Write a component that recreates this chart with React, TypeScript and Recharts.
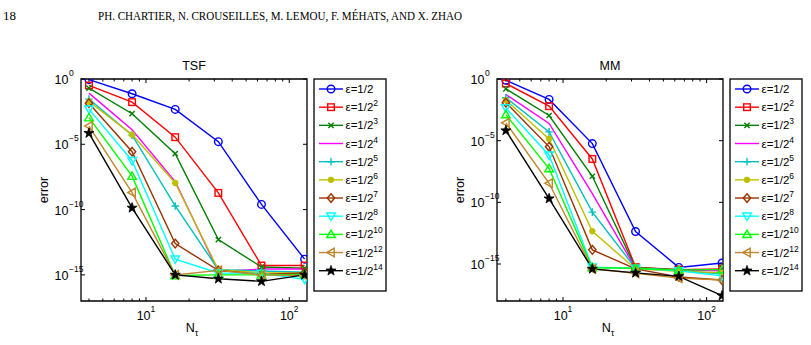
import React from "react";
import { LineChart, Line, XAxis, YAxis, ReferenceArea } from "recharts";

// time-step counts on the horizontal axis
const nTau = [4, 8, 16, 32, 64, 128];
// each curve is eps = 1/2^k
const epsPowers = [1, 2, 3, 4, 5, 6, 7, 8, 10, 12, 14];

// TSF scheme errors, one row per eps
const tsfErrors = [
  [8.9e-1, 7.4e-2, 4.7e-3, 1.6e-5, 2.5e-10, 1.6e-14],
  [3.2e-1, 1.7e-2, 3.5e-5, 1.9e-9, 5.2e-15, 5.2e-15],
  [2.0e-1, 2.2e-3, 1.9e-6, 5.0e-13, 4.0e-15, 3.2e-15],
  [8.3e-2, 1.3e-4, 1.4e-8, 1.8e-15, 2.8e-15, 2.8e-15],
  [2.9e-2, 5.0e-5, 1.9e-10, 2.5e-15, 2.0e-15, 1.6e-15],
  [1.9e-2, 5.5e-5, 1.1e-8, 2.5e-15, 1.4e-15, 1.4e-15],
  [1.4e-2, 2.7e-6, 2.5e-13, 2.2e-15, 1.1e-15, 1.4e-15],
  [4.9e-3, 5.5e-7, 1.6e-14, 1.4e-15, 1.3e-15, 4.5e-16],
  [1.1e-3, 3.6e-8, 8.9e-16, 1.0e-15, 1.0e-15, 1.1e-15],
  [2.5e-4, 2.0e-9, 1.0e-15, 2.2e-15, 1.0e-15, 8.9e-16],
  [7.1e-5, 1.35e-10, 1.0e-15, 5.0e-16, 3.2e-16, 1.0e-15],
];

// MM scheme errors, one row per eps
const mmErrors = [
  [7.9e-1, 2.2e-2, 5.8e-6, 4.3e-13, 5.3e-16, 1.2e-15],
  [4.3e-1, 6.3e-3, 3.3e-7, 5.6e-16, 3.5e-16, 4.0e-16],
  [1.6e-1, 1.1e-3, 1.3e-8, 5.0e-16, 3.5e-16, 3.2e-16],
  [5.5e-2, 2.5e-4, 5.0e-10, 4.5e-16, 3.2e-16, 2.8e-16],
  [3.0e-2, 5.2e-5, 1.6e-11, 4.5e-16, 2.8e-16, 1.6e-16],
  [1.9e-2, 1.4e-5, 4.5e-13, 4.0e-16, 2.5e-16, 2.0e-16],
  [1.2e-2, 3.2e-6, 1.4e-14, 4.0e-16, 8.9e-17, 5.0e-17],
  [4.6e-3, 6.6e-7, 5.6e-16, 4.5e-16, 2.8e-16, 1.1e-16],
  [1.3e-3, 5.5e-8, 5.0e-16, 4.5e-16, 3.2e-16, 3.5e-16],
  [2.8e-4, 3.5e-9, 4.0e-16, 1.8e-16, 7.1e-17, 5.0e-17],
  [6.6e-5, 2.0e-10, 4.0e-16, 1.9e-16, 1.0e-16, 2.7e-18],
];

const xMajorTicks = [10, 100];
const xMinorTicks = [4, 5, 6, 7, 8, 9, 20, 30, 40, 50, 60, 70, 80, 90];
const yMajorTicks = [1, 1e-5, 1e-10, 1e-15];

const curveColors = [
  "#0000ff", "#ff0000", "#007f00", "#ff00ff", "#00bfbf", "#bfbf00",
  "#993300", "#00ffff", "#00ff00", "#c0862a", "#000000",
];
const curveMarkers = ["o", "s", "x", "", "+", "*", "d", "v", "^", "<", "p"];

// layout of one panel (local coordinates)
const CHART_H = 345;
const PLOT_LEFT = 81;
const PLOT_TOP = 79;
const PLOT_W = 226;
const PLOT_H = 222;
const Y_AXIS_W = 50;
const X_AXIS_H = 40;
const LEGEND_X = 314;
const LEGEND_W = 72;
const LEGEND_H = 212;
const LEGEND_ROW0 = 89;
const LEGEND_STEP = 18.17;
const LINE_W = 1.4;

const FONT = "'Liberation Sans', Arial, Helvetica, sans-serif";

function starPath(cx: number, cy: number, R: number, r: number) {
  let d = "";
  for (let i = 0; i < 10; i++) {
    const a = -Math.PI / 2 + (i * Math.PI) / 5;
    const rad = i % 2 === 0 ? R : r;
    d += (i === 0 ? "M" : "L") + (cx + rad * Math.cos(a)).toFixed(2) + " " + (cy + rad * Math.sin(a)).toFixed(2);
  }
  return d + "Z";
}

function Marker({ kind, color, cx, cy }: { kind: string; color: string; cx: number; cy: number }) {
  const s = { fill: "none", stroke: color, strokeWidth: LINE_W };
  switch (kind) {
    case "o":
      return <circle cx={cx} cy={cy} r={3.8} {...s} />;
    case "s":
      return <rect x={cx - 3.3} y={cy - 3.3} width={6.6} height={6.6} {...s} />;
    case "x":
      return <path d={`M${cx - 2.6} ${cy - 2.6}L${cx + 2.6} ${cy + 2.6}M${cx - 2.6} ${cy + 2.6}L${cx + 2.6} ${cy - 2.6}`} {...s} />;
    case "+":
      return <path d={`M${cx - 3.8} ${cy}H${cx + 3.8}M${cx} ${cy - 3.8}V${cy + 3.8}`} {...s} />;
    case "*":
      return (
        <path
          d={`M${cx - 3.2} ${cy}H${cx + 3.2}M${cx} ${cy - 3.2}V${cy + 3.2}M${cx - 2.3} ${cy - 2.3}L${cx + 2.3} ${cy + 2.3}M${cx - 2.3} ${cy + 2.3}L${cx + 2.3} ${cy - 2.3}`}
          {...s}
          strokeWidth={2}
        />
      );
    case "d":
      return <path d={`M${cx} ${cy - 4.3}L${cx + 3.7} ${cy}L${cx} ${cy + 4.3}L${cx - 3.7} ${cy}Z`} {...s} />;
    case "v":
      return <path d={`M${cx - 4.3} ${cy - 3.2}L${cx + 4.3} ${cy - 3.2}L${cx} ${cy + 4.3}Z`} {...s} />;
    case "^":
      return <path d={`M${cx - 4.3} ${cy + 3.2}L${cx + 4.3} ${cy + 3.2}L${cx} ${cy - 4.3}Z`} {...s} />;
    case "<":
      return <path d={`M${cx + 3.2} ${cy - 4.3}L${cx + 3.2} ${cy + 4.3}L${cx - 4.3} ${cy}Z`} {...s} />;
    case "p":
      return <path d={starPath(cx, cy, 5.3, 2.1)} fill={color} stroke={color} strokeWidth={0.8} />;
    default:
      return null;
  }
}

function supText(exp: number) {
  return exp < 0 ? `\u2212${-exp}` : `${exp}`;
}

function XTick(props: any) {
  const { x, y, payload } = props;
  const v = payload.value;
  const major = xMajorTicks.includes(v);
  const len = major ? 4 : 2.5;
  return (
    <g>
      <line x1={x} x2={x} y1={y} y2={y - len} stroke="#000" />
      <line x1={x} x2={x} y1={y - PLOT_H} y2={y - PLOT_H + len} stroke="#000" />
      {major && (
        <text x={x} y={y + 19} textAnchor="middle" fontSize={12.5} fill="#000" fontFamily={FONT}>
          10
          <tspan dy={-8} fontSize={8.5}>
            {supText(Math.round(Math.log10(v)))}
          </tspan>
        </text>
      )}
    </g>
  );
}

function YTick(props: any) {
  const { x, y, payload } = props;
  const exp = Math.round(Math.log10(payload.value));
  return (
    <g>
      <line x1={x} x2={x + 4} y1={y} y2={y} stroke="#000" />
      <line x1={x + PLOT_W} x2={x + PLOT_W - 4} y1={y} y2={y} stroke="#000" />
      <text x={x - 12.5} y={y + 5} textAnchor="end" fontSize={12.5} fill="#000" fontFamily={FONT}>
        10
      </text>
      <text x={x - 12} y={y - 3} fontSize={8.5} fill="#000" fontFamily={FONT}>
        {supText(exp)}
      </text>
    </g>
  );
}

function Panel({
  title,
  errors,
  xDomain,
  yDomain,
  left,
  width,
}: {
  title: string;
  errors: number[][];
  xDomain: [number, number];
  yDomain: [number, number];
  left: number;
  width: number;
}) {
  const rows = nTau.map((n, i) => {
    const row: Record<string, number> = { n };
    errors.forEach((series, k) => {
      row[`e${k}`] = series[i];
    });
    return row;
  });
  const plotCx = PLOT_LEFT + PLOT_W / 2;

  return (
    <div style={{ position: "absolute", left, top: 0, width, height: CHART_H }}>
      <LineChart
        width={width}
        height={CHART_H}
        data={rows}
        margin={{
          top: PLOT_TOP,
          left: PLOT_LEFT - Y_AXIS_W,
          right: width - PLOT_LEFT - PLOT_W,
          bottom: CHART_H - PLOT_TOP - PLOT_H - X_AXIS_H,
        }}
      >
        <XAxis
          dataKey="n"
          type="number"
          scale="log"
          domain={xDomain}
          allowDataOverflow
          ticks={[...xMinorTicks, ...xMajorTicks].sort((a, b) => a - b)}
          interval={0}
          tickSize={0}
          tickMargin={0}
          axisLine={false}
          height={X_AXIS_H}
          tick={XTick}
        />
        <YAxis
          type="number"
          scale="log"
          domain={yDomain}
          allowDataOverflow
          ticks={yMajorTicks}
          interval={0}
          tickSize={0}
          tickMargin={0}
          axisLine={false}
          width={Y_AXIS_W}
          tick={YTick}
        />
        <ReferenceArea
          x1={xDomain[0]}
          x2={xDomain[1]}
          y1={yDomain[0]}
          y2={yDomain[1]}
          fill="none"
          fillOpacity={0}
          stroke="#000"
          strokeWidth={1.3}
          ifOverflow="visible"
        />
        {errors.map((_, k) => (
          <Line
            key={k}
            dataKey={`e${k}`}
            stroke={curveColors[k]}
            strokeWidth={LINE_W}
            isAnimationActive={false}
            activeDot={false}
            dot={
              curveMarkers[k]
                ? (p: any) => (
                    <Marker key={`m${k}-${p.index}`} kind={curveMarkers[k]} color={curveColors[k]} cx={p.cx} cy={p.cy} />
                  )
                : false
            }
          />
        ))}
      </LineChart>
      <svg
        width={width}
        height={CHART_H}
        style={{ position: "absolute", left: 0, top: 0, pointerEvents: "none" }}
        fontFamily={FONT}
      >
        <text x={plotCx} y={70} textAnchor="middle" fontSize={12.5} fill="#000">
          {title}
        </text>
        <text x={plotCx - 2} y={332} textAnchor="middle" fontSize={12.5} fill="#000">
          N
          <tspan dy={4} fontSize={9}>
            τ
          </tspan>
        </text>
        <text
          x={48}
          y={PLOT_TOP + PLOT_H / 2}
          transform={`rotate(-90 48 ${PLOT_TOP + PLOT_H / 2})`}
          textAnchor="middle"
          fontSize={12.5}
          fill="#000"
        >
          error
        </text>
        <rect x={LEGEND_X} y={PLOT_TOP} width={LEGEND_W} height={LEGEND_H} fill="#fff" stroke="#000" strokeWidth={1.3} />
        {epsPowers.map((k, i) => {
          const ry = LEGEND_ROW0 + i * LEGEND_STEP;
          return (
            <g key={k}>
              <line x1={LEGEND_X + 5} x2={LEGEND_X + 29} y1={ry} y2={ry} stroke={curveColors[i]} strokeWidth={LINE_W} />
              <Marker kind={curveMarkers[i]} color={curveColors[i]} cx={LEGEND_X + 17} cy={ry} />
              <text x={LEGEND_X + 31.5} y={ry + 4} fontSize={11.5} fill="#000">
                ε=1/2
                {k > 1 && (
                  <tspan dy={-5} fontSize={8.5}>
                    {k}
                  </tspan>
                )}
              </text>
            </g>
          );
        })}
      </svg>
    </div>
  );
}

export default function App() {
  return (
    <div
      style={{
        position: "absolute",
        left: 0,
        top: 0,
        width: 811,
        height: 345,
        overflow: "hidden",
        background: "#fff",
        fontFamily: FONT,
      }}
    >
      <svg width={811} height={30} style={{ position: "absolute", left: 0, top: 0 }}>
        <text x={3} y={20} fontSize={13} fontFamily="'Liberation Serif', 'DejaVu Serif', serif" fill="#000">
          18
        </text>
        <text
          x={98}
          y={20}
          fontSize={13}
          textLength={364}
          lengthAdjust="spacingAndGlyphs"
          fontFamily="'Liberation Serif', 'DejaVu Serif', serif"
          fill="#000"
        >
          PH. CHARTIER, N. CROUSEILLES, M. LEMOU, F. MÉHATS, AND X. ZHAO
        </text>
      </svg>
      <Panel title="TSF" errors={tsfErrors} xDomain={[3.52, 133]} yDomain={[1e-17, 1]} left={0} width={416} />
      <Panel title="MM" errors={mmErrors} xDomain={[3.47, 130]} yDomain={[1e-18, 1]} left={416} width={395} />
    </div>
  );
}
